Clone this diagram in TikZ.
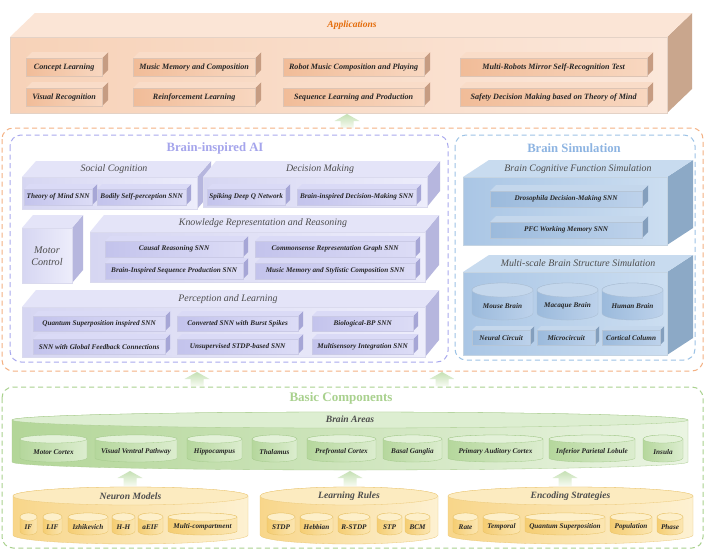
\documentclass[tikz,border=0pt]{standalone}
\usepackage{fontspec}
\setmainfont{Liberation Serif}
\definecolor{apS}{HTML}{C9A68D}\definecolor{apT}{HTML}{FBE5D6}\definecolor{apL}{HTML}{F7D2B8}\definecolor{apR}{HTML}{FBE7DA}
\definecolor{aptS}{HTML}{C69C82}\definecolor{aptT}{HTML}{F9DCC8}\definecolor{aptL}{HTML}{F1BC98}\definecolor{aptR}{HTML}{F8D7C0}
\definecolor{aiS}{HTML}{B6B6DE}\definecolor{aiT}{HTML}{E4E4F8}\definecolor{aiL}{HTML}{D6D6F2}\definecolor{aiR}{HTML}{EDEDFB}
\definecolor{aitS}{HTML}{A6A6D6}\definecolor{aitT}{HTML}{DADAF6}\definecolor{aitL}{HTML}{C3C3EC}\definecolor{aitR}{HTML}{DCDCF6}
\definecolor{bsS}{HTML}{8CA9C6}\definecolor{bsT}{HTML}{C8DBEF}\definecolor{bsL}{HTML}{AAC6E5}\definecolor{bsR}{HTML}{CCDEF1}
\definecolor{bstS}{HTML}{849FBD}\definecolor{bstT}{HTML}{C4D7EC}\definecolor{bstL}{HTML}{9BBADC}\definecolor{bstR}{HTML}{BDD2EB}
\definecolor{orDash}{HTML}{F4B183}\definecolor{puDash}{HTML}{A9A9EE}\definecolor{blDash}{HTML}{9DC3E6}\definecolor{grDash}{HTML}{A9D18E}
\definecolor{titleGray}{HTML}{4D4D4D}\definecolor{appOrange}{HTML}{E46C0A}
\definecolor{aiTitle}{HTML}{A5A5EC}\definecolor{bsTitle}{HTML}{8DB4E2}\definecolor{baTitle}{HTML}{A9D18E}
\definecolor{bagL}{HTML}{B3D698}\definecolor{bagR}{HTML}{EAF4E2}\definecolor{bagD}{HTML}{A9CC8E}\definecolor{bagT}{HTML}{DDEED1}
\definecolor{basL}{HTML}{B5D79C}\definecolor{basR}{HTML}{DCEDCF}\definecolor{basD}{HTML}{A3C98A}\definecolor{basT}{HTML}{E3F1D8}
\definecolor{ylL}{HTML}{F8D68A}\definecolor{ylR}{HTML}{FDF1D2}\definecolor{ylD}{HTML}{EBC878}\definecolor{ylT}{HTML}{FCEBC0}
\definecolor{ysL}{HTML}{F5CD72}\definecolor{ysR}{HTML}{FBE6B2}\definecolor{ysD}{HTML}{E6C064}\definecolor{ysT}{HTML}{FDEFC9}
\definecolor{arTop}{HTML}{C5E0B4}\definecolor{arBot}{HTML}{F7FBF2}
\newcommand\itemfont{\bfseries\itshape\fontsize{8.1}{9}\selectfont}
\newcommand\smallitem{\bfseries\itshape\fontsize{7.2}{8}\selectfont}
\newcommand\sectfont{\itshape\fontsize{9.9}{11}\selectfont}
\tikzset{
 apside/.style={fill=apS}, aptop/.style={fill=apT},
 apbox/.style={left color=apL, right color=apR, draw=apS!50, line width=.3pt, inner sep=0pt},
 aptside/.style={fill=aptS}, apttop/.style={fill=aptT},
 aptbox/.style={left color=aptL, right color=aptR, draw=aptS!60, line width=.3pt, inner sep=0pt, font=\itemfont, text=black!85},
 aiside/.style={fill=aiS}, aitop/.style={fill=aiT},
 aibox/.style={left color=aiL, right color=aiR, draw=aiS!50, line width=.3pt, inner sep=0pt},
 aitside/.style={fill=aitS}, aittop/.style={fill=aitT},
 aitbox/.style={left color=aitL, right color=aitR, draw=aitS!60, line width=.3pt, inner sep=0pt, font=\smallitem, text=black!85},
 bsside/.style={fill=bsS}, bstop/.style={fill=bsT},
 bsbox/.style={left color=bsL, right color=bsR, draw=bsS!50, line width=.3pt, inner sep=0pt},
 bstside/.style={fill=bstS}, bsttop/.style={fill=bstT},
 bstbox/.style={left color=bstL, right color=bstR, draw=bstS!60, line width=.3pt, inner sep=0pt, font=\smallitem, text=black!85},
 bscbody/.style={left color=bstL, right color=bstR, draw=bstS!70, line width=.3pt},
 bsctop/.style={fill=bstT, draw=bstS!70, line width=.3pt},
 bsctxt/.style={font=\smallitem, text=black!85},
 bagbody/.style={left color=bagL, right color=bagR, draw=bagD, line width=.3pt},
 bagtop/.style={fill=bagT, draw=bagD, line width=.3pt},
 bagtxt/.style={font=\bfseries\itshape\fontsize{9.6}{11}\selectfont, text=titleGray},
 basbody/.style={left color=basL, right color=basR, draw=basD, line width=.3pt},
 bastop/.style={fill=basT, draw=basD, line width=.3pt},
 bastxt/.style={font=\smallitem, text=black!85},
 ylbody/.style={left color=ylL, right color=ylR, draw=ylD, line width=.3pt},
 yltop/.style={fill=ylT, draw=ylD, line width=.3pt},
 yltxt/.style={font=\bfseries\itshape\fontsize{9.6}{11}\selectfont, text=titleGray},
 ysbody/.style={left color=ysL, right color=ysR, draw=ysD, line width=.3pt},
 ystop/.style={fill=ysT, draw=ysD, line width=.3pt},
 ystxt/.style={font=\smallitem, text=black!85},
 sectitle/.style={font=\sectfont, text=titleGray},
 dashframe/.style={dash pattern=on 5pt off 3.5pt, line width=1pt, rounded corners=11pt},
 arrowshade/.style={top color=arTop, bottom color=arBot},
}
% 3D box: name, x1, y1, x2, y2, dx, dy, scheme, text
\newcommand\cub[9]{%
 \fill[#8side] (#4,#3) -- ({#4+#6},{#3-#7}) -- ({#4+#6},{#5-#7}) -- (#4,#5) -- cycle;
 \fill[#8top] (#2,#3) -- ({#2+#6},{#3-#7}) -- ({#4+#6},{#3-#7}) -- (#4,#3) -- cycle;
 \node[#8box, minimum width={#4-#2}, minimum height={#5-#3}, anchor=north west] (#1) at (#2,#3) {#9};}
% cylinder: name, x1, x2, ytop, ybot, ry, scheme, text, texty
\newcommand\cyl[9]{%
 \pgfmathsetmacro\cylrx{(#3-#2)/2}\pgfmathsetmacro\cylcx{(#3+#2)/2}%
 \shade[#7body] (#2,#4) -- (#2,#5) arc[start angle=180, end angle=360, x radius=\cylrx pt, y radius=#6pt] -- (#3,#4) arc[start angle=0, end angle=180, x radius=\cylrx pt, y radius=#6pt] -- cycle;
 \filldraw[#7top] (\cylcx,#4) ellipse[x radius=\cylrx pt, y radius=#6pt];
 \node[#7txt] (#1) at (\cylcx,#9) {#8};}
% block arrow: name, x, ytip, ybottom
\newcommand\blockup[4]{%
 \shade[arrowshade] ({#2-6.5},#4) -- ({#2-6.5},{#3+7}) -- ({#2-12.5},{#3+7}) -- (#2,#3) -- ({#2+12.5},{#3+7}) -- ({#2+6.5},{#3+7}) -- ({#2+6.5},#4) -- cycle;
 \coordinate (#1) at (#2,#3);}
\begin{document}
\begin{tikzpicture}[x=1pt,y=-1pt]
\useasboundingbox (0,0) rectangle (710,550);
\fill[white] (0,0) rectangle (710,550);
% ---------------- Applications
\cub{app}{10}{37}{667}{113}{25}{24}{ap}{}
\node[font=\bfseries\itshape\fontsize{9.5}{11}\selectfont, text=appOrange] (appT) at (352,25) {Applications};
\cub{a1}{26}{58}{102}{76}{6}{6}{apt}{Concept Learning}
\cub{a2}{133}{58}{255}{76}{6}{6}{apt}{Music Memory and Composition}
\cub{a3}{283}{58}{424}{76}{6}{6}{apt}{Robot Music Composition and Playing}
\cub{a4}{460}{58}{647}{76}{6}{6}{apt}{Multi-Robots Mirror Self-Recognition Test}
\cub{a5}{26}{88}{102}{106}{6}{6}{apt}{Visual Recognition}
\cub{a6}{133}{88}{255}{106}{6}{6}{apt}{Reinforcement Learning}
\cub{a7}{283}{88}{424}{106}{6}{6}{apt}{Sequence Learning and Production}
\cub{a8}{460}{88}{647}{106}{6}{6}{apt}{Safety Decision Making based on Theory of Mind}
\blockup{ar0}{347}{114}{128}
% ---------------- frames
\draw[dashframe, orDash] (2,128) rectangle (703,371);
\draw[dashframe, puDash] (10,135) rectangle (448,362);
\draw[dashframe, blDash] (455,135) rectangle (695,360);
\node[font=\bfseries\fontsize{12.7}{14}\selectfont, text=aiTitle] (aiTitleN) at (215,148) {Brain-inspired AI};
\node[font=\bfseries\fontsize{12.7}{14}\selectfont, text=bsTitle] (bsTitleN) at (574,148) {Brain Simulation};
% ---------------- Brain-inspired AI
\cub{soc}{22}{177}{197}{209}{14}{16}{ai}{}
\node[sectitle] (socT) at (114,169) {Social Cognition};
\cub{s1}{24}{189}{92}{205}{5}{5}{ait}{Theory of Mind SNN}
\cub{s2}{97}{189}{186}{205}{5}{5}{ait}{Bodily Self-perception SNN}
\cub{dec}{203}{177}{427}{207}{13}{16}{ai}{}
\node[sectitle] (decT) at (320,169) {Decision Making};
\cub{d1}{207}{189}{285}{205}{5}{5}{ait}{Spiking Deep Q Network}
\cub{d2}{297}{189}{416}{205}{5}{5}{ait}{Brain-inspired Decision-Making SNN}
\cub{mot}{22}{228}{72}{283}{11}{13}{ai}{}
\node[sectitle, align=center, font=\itshape\fontsize{10.2}{12.5}\selectfont] (motT) at (47,256) {Motor\\Control};
\cub{know}{90}{232}{425}{282}{14}{17}{ai}{}
\node[sectitle] (knowT) at (263,223) {Knowledge Representation and Reasoning};
\cub{k1}{105}{241}{243}{257}{5}{5}{ait}{Causal Reasoning SNN}
\cub{k2}{255}{241}{415}{257}{5}{5}{ait}{Commonsense Representation Graph SNN}
\cub{k3}{105}{263}{243}{279}{5}{5}{ait}{Brain-Inspired Sequence Production SNN}
\cub{k4}{255}{263}{415}{279}{5}{5}{ait}{Music Memory and Stylistic Composition SNN}
\cub{perc}{22}{307}{425}{357}{14}{17}{ai}{}
\node[sectitle] (percT) at (228,299) {Perception and Learning};
\cub{p1}{33}{316}{165}{331}{5}{5}{ait}{Quantum Superposition inspired SNN}
\cub{p2}{177}{316}{298}{331}{5}{5}{ait}{Converted SNN with Burst Spikes}
\cub{p3}{312}{316}{413}{331}{5}{5}{ait}{Biological-BP SNN}
\cub{p4}{33}{339}{165}{354}{5}{5}{ait}{SNN with Global Feedback Connections}
\cub{p5}{177}{339}{298}{354}{5}{5}{ait}{Unsupervised STDP-based SNN}
\cub{p6}{312}{339}{413}{354}{5}{5}{ait}{Multisensory Integration SNN}
% ---------------- Brain Simulation
\cub{bcf}{463}{177}{667}{245}{26}{17}{bs}{}
\node[sectitle] (bcfT) at (578,169) {Brain Cognitive Function Simulation};
\cub{b1}{490}{191}{642}{207}{6}{6}{bst}{Drosophila Decision-Making SNN}
\cub{b2}{490}{222}{642}{238}{6}{6}{bst}{PFC Working Memory SNN}
\cub{mbs}{463}{272}{667}{355}{26}{17}{bs}{}
\node[sectitle] (mbsT) at (578,263) {Multi-scale Brain Structure Simulation};
\cyl{c1}{472}{533}{290}{313}{7}{bsc}{Mouse Brain}{306}
\cyl{c2}{537}{598}{290}{313}{7}{bsc}{Macaque Brain}{306}
\cyl{c3}{602}{663}{290}{313}{7}{bsc}{Human Brain}{306}
\cub{n1}{472}{330}{530}{345}{4}{4}{bst}{Neural Circuit}
\cub{n2}{537}{330}{595}{345}{4}{4}{bst}{Microcircuit}
\cub{n3}{602}{330}{660}{345}{4}{4}{bst}{Cortical Column}
\blockup{ar1}{197}{372}{386}
\blockup{ar2}{442}{372}{386}
% ---------------- Basic Components
\draw[dashframe, grDash] (2,387) rectangle (703,548);
\node[font=\bfseries\fontsize{13}{15}\selectfont, text=baTitle] (baT) at (341,398) {Basic Components};
\cyl{areas}{12}{688}{420}{462}{8}{bag}{Brain Areas}{419}
\cyl{m1}{20}{87}{439}{458}{4}{bas}{Motor Cortex}{452}
\cyl{m2}{95}{177}{439}{458}{4}{bas}{Visual Ventral Pathway}{452}
\cyl{m3}{187}{242}{439}{458}{4}{bas}{Hippocampus}{452}
\cyl{m4}{252}{297}{439}{458}{4}{bas}{Thalamus}{452}
\cyl{m5}{307}{376}{439}{458}{4}{bas}{Prefrontal Cortex}{452}
\cyl{m6}{383}{442}{439}{458}{4}{bas}{Basal Ganglia}{452}
\cyl{m7}{448}{543}{439}{458}{4}{bas}{Primary Auditory Cortex}{452}
\cyl{m8}{549}{635}{439}{458}{4}{bas}{Inferior Parietal Lobule}{452}
\cyl{m9}{643}{683}{439}{458}{4}{bas}{Insula}{452}
\blockup{ar3}{130}{471}{486}
\blockup{ar4}{350}{471}{486}
\blockup{ar5}{565}{471}{486}
\cyl{neu}{13}{248}{496}{535}{9}{yl}{Neuron Models}{496}
\cyl{lea}{260}{438}{496}{535}{9}{yl}{Learning Rules}{496}
\cyl{enc}{448}{693}{496}{535}{9}{yl}{Encoding Strategies}{496}
\cyl{u1}{20}{37}{517}{531}{4}{ys}{IF}{527}
\cyl{u2}{43}{62}{517}{531}{4}{ys}{LIF}{527}
\cyl{u3}{68}{108}{517}{531}{4}{ys}{Izhikevich}{527}
\cyl{u4}{112}{135}{517}{531}{4}{ys}{H-H}{527}
\cyl{u5}{138}{163}{517}{531}{4}{ys}{aEIF}{527}
\cyl{u6}{168}{237}{517}{531}{4}{ys}{Multi-compartment}{527}
\cyl{l1}{267}{295}{517}{531}{4}{ys}{STDP}{527}
\cyl{l2}{300}{333}{517}{531}{4}{ys}{Hebbian}{527}
\cyl{l3}{338}{370}{517}{531}{4}{ys}{R-STDP}{527}
\cyl{l4}{377}{402}{517}{531}{4}{ys}{STP}{527}
\cyl{l5}{405}{430}{517}{531}{4}{ys}{BCM}{527}
\cyl{e1}{453}{478}{517}{531}{4}{ys}{Rate}{527}
\cyl{e2}{483}{520}{517}{531}{4}{ys}{Temporal}{527}
\cyl{e3}{525}{605}{517}{531}{4}{ys}{Quantum Superposition}{527}
\cyl{e4}{610}{652}{517}{531}{4}{ys}{Population}{527}
\cyl{e5}{657}{683}{517}{531}{4}{ys}{Phase}{527}
\end{tikzpicture}
\end{document}
